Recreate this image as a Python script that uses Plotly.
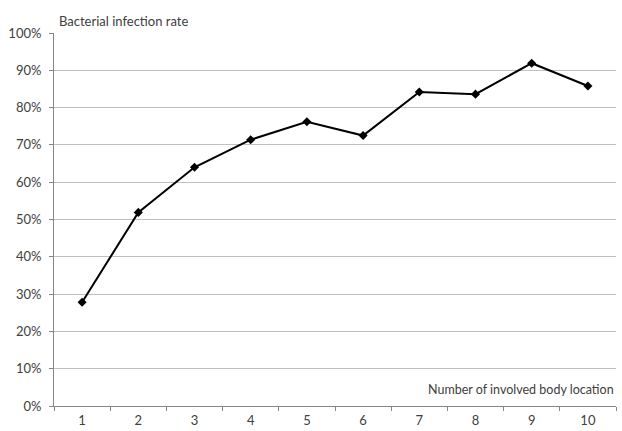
import plotly.graph_objects as go

categories = ["1", "2", "3", "4", "5", "6", "7", "8", "9", "10"]
infection_rate = [27.8, 51.9, 64.0, 71.4, 76.2, 72.5, 84.2, 83.6, 91.9, 85.8]
y_ticks = [0, 10, 20, 30, 40, 50, 60, 70, 80, 90, 100]
y_labels = [f"{v}%" for v in y_ticks]

font_family = "Lato, 'Open Sans', sans-serif"
text_color = "#404040"

fig = go.Figure()
fig.add_trace(go.Scatter(
    x=categories, y=infection_rate, mode="lines+markers",
    line=dict(color="black", width=2),
    marker=dict(symbol="diamond", size=7, color="black"),
    showlegend=False,
))

fig.update_layout(
    width=622, height=431,
    margin=dict(l=54, r=6, t=33, b=25, autoexpand=False),
    plot_bgcolor="white", paper_bgcolor="white",
    font=dict(family=font_family, size=13, color=text_color),
    xaxis=dict(
        type="category", range=[-0.5, 9.5], tickson="boundaries",
        ticks="outside", ticklen=4, ticklabelstandoff=2,
        tickcolor="#868686", showline=True, linecolor="#868686", linewidth=1,
        showgrid=False, tickfont=dict(size=13, color=text_color),
    ),
    yaxis=dict(
        range=[0, 100], tickvals=y_ticks, ticktext=y_labels,
        ticks="outside", ticklen=4, tickcolor="#868686", ticklabelstandoff=5,
        showline=True, linecolor="#868686", linewidth=1,
        showgrid=True, gridcolor="#c0c0c0", gridwidth=1,
        zeroline=False, tickfont=dict(size=13, color=text_color),
    ),
    annotations=[
        dict(text="Bacterial infection rate", xref="paper", yref="paper",
             x=0.005, y=1.005, xanchor="left", yanchor="bottom",
             showarrow=False, font=dict(size=13, color=text_color)),
        dict(text="Number of involved body location", xref="paper", yref="paper",
             x=1.0, y=0.02, xanchor="right", yanchor="bottom",
             showarrow=False, font=dict(size=12.5, color=text_color)),
    ],
)

fig.write_html("out.html", config={"responsive": False, "displayModeBar": False},
               post_script="document.body.style.margin='0px';document.body.style.overflow='hidden';")
